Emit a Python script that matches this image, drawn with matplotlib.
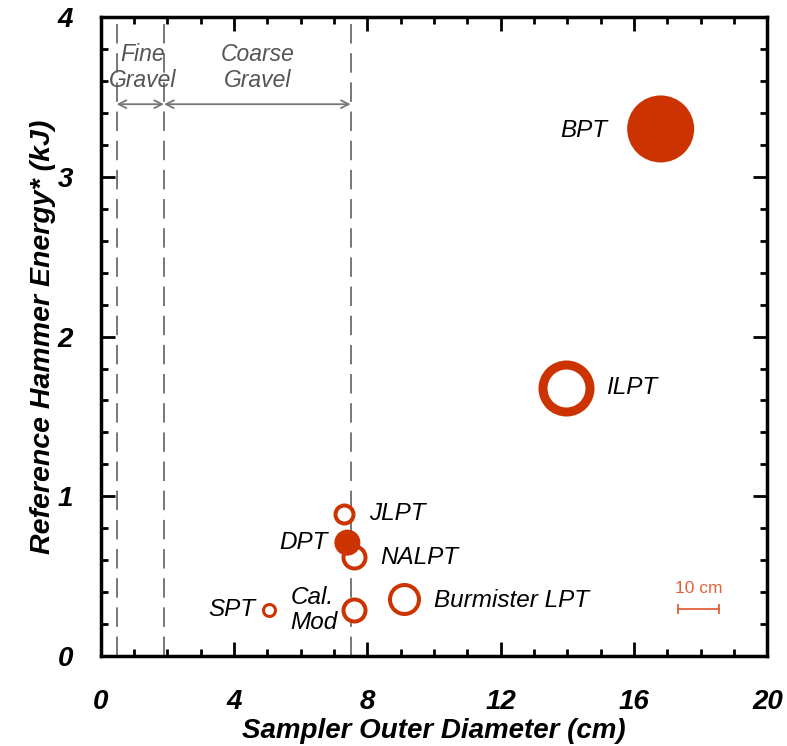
import numpy as np
import matplotlib
matplotlib.use('Agg')
import matplotlib.pyplot as plt
from matplotlib.ticker import MultipleLocator

plt.rcParams['font.family'] = ['Liberation Sans', 'DejaVu Sans']

# sampler data
names = ['BPT', 'ILPT', 'JLPT', 'DPT', 'NALPT', 'Cal. Mod', 'Burmister LPT', 'SPT']
od_cm = [16.8, 13.95, 7.3, 7.4, 7.6, 7.6, 9.1, 5.05]
energy_kj = [3.30, 1.68, 0.89, 0.71, 0.62, 0.29, 0.36, 0.29]
filled = [True, False, False, True, False, False, False, False]
# marker outer diameter and ring width, in pixels
outer_px = [67, 56, 22, 26, 26, 26, 33, 15]
ring_px = [0, 9, 4, 0, 4, 4, 4, 3]

# label anchors (x, y, ha)
lab_x = [15.2, 15.15, 8.05, 6.8, 8.4, 5.7, 10.0, 4.65]
lab_y = [3.29, 1.68, 0.89, 0.71, 0.62, 0.29, 0.35, 0.29]
lab_ha = ['right', 'left', 'left', 'right', 'left', 'left', 'left', 'right']

gravel_bounds = [0.475, 1.9, 7.5]

red = '#CC3300'
px2pt = 72.0 / 100

fig = plt.figure(figsize=(7.87, 7.46), dpi=100)
ax = fig.add_axes([0.128, 0.1206, 0.847, 0.8564])

for i in range(len(names)):
    if filled[i]:
        d = outer_px[i] * px2pt
        ax.scatter(od_cm[i], energy_kj[i], s=d ** 2, color=red, edgecolors='none', zorder=4)
    else:
        d = (outer_px[i] - ring_px[i]) * px2pt
        ax.scatter(od_cm[i], energy_kj[i], s=d ** 2, facecolors='white', edgecolors=red,
                   linewidths=ring_px[i] * px2pt, zorder=3)
    lbl = names[i]
    if lbl == 'Cal. Mod':
        lbl = 'Cal.\nMod'
    ax.text(lab_x[i], lab_y[i], lbl, ha=lab_ha[i], va='center', fontsize=17.5,
            style='italic', linespacing=1.1, zorder=5)

# gravel boundaries
for b in gravel_bounds:
    ax.axvline(b, color='#777777', lw=1.4, ls=(0, (10, 5)), zorder=1)

arr_y = 3.455
for a, b in [(gravel_bounds[0], gravel_bounds[1]), (gravel_bounds[1], gravel_bounds[2])]:
    ax.annotate('', xy=(a, arr_y), xytext=(b, arr_y),
                arrowprops=dict(arrowstyle='<->', color='#777777', lw=1.3,
                                shrinkA=0, shrinkB=0, mutation_scale=14))
ax.text(1.25, 3.685, 'Fine\nGravel', ha='center', va='center', fontsize=16.5,
        style='italic', color='#555555', linespacing=1.2)
ax.text(4.7, 3.685, 'Coarse\nGravel', ha='center', va='center', fontsize=16.5,
        style='italic', color='#555555', linespacing=1.2)

# scale bar
sb_col = '#E0603A'
ax.plot([17.32, 18.56], [0.295, 0.295], color=sb_col, lw=1.3)
ax.plot([17.32, 17.32], [0.27, 0.32], color=sb_col, lw=1.3)
ax.plot([18.56, 18.56], [0.27, 0.32], color=sb_col, lw=1.3)
ax.text(17.94, 0.425, '10 cm', ha='center', va='center', fontsize=12.5, color=sb_col)

ax.set_xlim(0, 20)
ax.set_ylim(0, 4)
ax.xaxis.set_major_locator(MultipleLocator(4))
ax.xaxis.set_minor_locator(MultipleLocator(1))
ax.yaxis.set_major_locator(MultipleLocator(1))
ax.yaxis.set_minor_locator(MultipleLocator(0.2))
ax.tick_params(which='both', direction='in', top=True, right=True, width=2)
ax.tick_params(which='major', length=10, labelsize=20)
ax.tick_params(axis='x', which='major', pad=24)
ax.tick_params(axis='y', which='major', pad=20)
ax.tick_params(which='minor', length=5)
for lab in ax.get_xticklabels() + ax.get_yticklabels():
    lab.set_fontweight('bold')
    lab.set_fontstyle('italic')
for sp in ax.spines.values():
    sp.set_linewidth(2.5)

ax.set_xlabel('Sampler Outer Diameter (cm)', fontsize=20, fontweight='bold',
              style='italic', labelpad=2)
ax.set_ylabel('Reference Hammer Energy* (kJ)', fontsize=20.5, fontweight='bold',
              style='italic', labelpad=1)

fig.savefig('out.png', dpi=100)
